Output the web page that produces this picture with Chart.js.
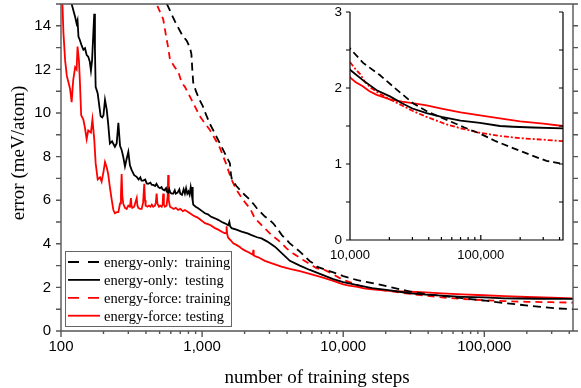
<!DOCTYPE html>
<html>
<head>
<meta charset="utf-8">
<title>error vs training steps</title>
<script src="https://cdn.jsdelivr.net/npm/chart.js@4.4.1/dist/chart.umd.min.js"></script>
<style>
    body { margin: 0; background: #fff; }
    #wrap { position: relative; width: 581px; height: 388px; }
    #main { position: absolute; left: 0; top: 0; }
    #inset { position: absolute; left: 320px; top: 0; }
</style>
</head>
<body>
<div id="wrap">
    <canvas id="main" width="581" height="388"></canvas>
    <canvas id="inset" width="261" height="265"></canvas>
</div>
<script>
        // Series labels and axis titles
        const seriesLabels = ['energy-only:  training', 'energy-only:  testing', 'energy-force: training', 'energy-force: testing'];
        const xTitle = 'number of training steps';
        const yTitle = 'error (meV/atom)';

        // Axis ranges
        const xRange = [100, 425000];
        const yRange = [0, 15];
        const insetXRange = [10000, 425000];
        const insetYRange = [0, 3];

        // energy-only: training (black dashed)
        const eoTrainSteps = [540, 563, 642, 719, 780, 820, 840, 852, 865, 904, 960, 1013, 1070, 1136, 1200, 1267, 1337, 1450, 1530, 1574, 1600, 1626, 1750, 1853, 2000, 2121, 2300, 2443, 2600, 2785, 3000, 3189, 3450, 3675, 3950, 4186, 4600, 4928, 5400, 5801, 6100, 6300, 6500, 7200, 8400, 10000, 12600, 16900, 22000, 30300, 40000, 55000, 75000, 98600, 130000, 176000, 240000, 318000, 425000];
        const eoTrainErr = [15.6, 15.0, 14.2, 13.6, 13.3, 13.0, 12.7, 12.0, 11.4, 11.0, 10.6, 10.3, 9.9, 9.5, 9.2, 8.9, 8.6, 8.15, 7.85, 7.7, 7.2, 6.95, 6.65, 6.47, 6.25, 6.1, 5.85, 5.63, 5.45, 5.25, 5.1, 4.94, 4.65, 4.4, 4.2, 4.02, 3.8, 3.64, 3.4, 3.2, 3.12, 3.05, 2.95, 2.85, 2.7, 2.52, 2.33, 2.17, 2.0, 1.8, 1.68, 1.58, 1.48, 1.4, 1.3, 1.21, 1.12, 1.04, 1.0];

        // energy-only: testing (black solid)
        const eoTestSteps = [110, 119, 126, 129, 131, 133, 136, 140, 144, 148, 152, 156, 160, 163, 166, 169, 172, 174, 176, 182, 187, 191, 196, 200, 205, 211, 216, 222, 230, 241, 248, 255, 262, 269, 276, 284, 292, 300, 308, 317, 330, 344, 355, 365, 372, 383, 395, 405, 415, 430, 440, 451, 465, 475, 490, 503, 515, 525, 540, 555, 561, 575, 585, 595, 610, 624, 640, 650, 670, 690, 700, 720, 740, 755, 770, 785, 800, 815, 830, 843, 850, 858, 865, 900, 938, 1000, 1047, 1100, 1150, 1232, 1300, 1380, 1450, 1530, 1560, 1580, 1618, 1750, 1905, 2100, 2242, 2450, 2638, 2900, 3279, 3700, 4187, 4928, 5801, 7205, 8500, 10000, 12600, 16000, 20200, 25000, 30000, 38500, 50000, 70000, 98600, 140000, 176000, 250000, 425000];
        const eoTestErr = [17.5, 15.0, 14.4, 14.1, 14.25, 13.5, 13.35, 13.1, 12.9, 12.97, 12.66, 12.58, 12.35, 11.95, 12.4, 13.5, 14.55, 12.9, 11.2, 10.9, 10.3, 9.85, 9.8, 9.9, 10.6, 10.14, 9.5, 8.6, 8.7, 8.45, 8.6, 9.55, 8.5, 8.3, 8.0, 7.55, 7.9, 8.22, 7.6, 7.38, 7.15, 7.07, 6.95, 7.05, 6.9, 6.9, 6.95, 6.77, 6.75, 6.8, 6.7, 6.7, 6.65, 6.75, 6.6, 6.55, 6.6, 6.5, 6.45, 6.55, 6.4, 6.35, 6.5, 6.35, 6.3, 6.3, 6.45, 6.3, 6.35, 6.5, 6.3, 6.25, 6.5, 6.3, 6.55, 6.3, 6.4, 6.25, 6.6, 6.3, 6.6, 6.0, 5.8, 5.7, 5.63, 5.5, 5.4, 5.35, 5.25, 5.17, 5.1, 5.0, 4.94, 4.85, 5.0, 4.8, 4.72, 4.65, 4.56, 4.48, 4.4, 4.3, 4.25, 4.1, 3.87, 3.55, 3.22, 3.0, 2.8, 2.56, 2.38, 2.24, 2.1, 1.97, 1.89, 1.8, 1.73, 1.67, 1.62, 1.57, 1.54, 1.5, 1.49, 1.48, 1.47];

        // energy-force: training (red dashed)
        const efTrainSteps = [450, 476, 530, 560, 575, 592, 640, 677, 716, 755, 820, 889, 965, 1000, 1136, 1267, 1337, 1491, 1600, 1755, 1955, 2181, 2366, 2708, 3107, 3556, 3966, 4418, 5200, 6470, 7500, 8481, 10000, 11000, 12000, 13000, 14500, 17000, 20200, 25000, 30000, 38500, 55000, 70000, 98600, 140000, 200000, 300000, 425000];
        const efTrainErr = [16.0, 15.0, 14.3, 13.4, 13.0, 12.45, 12.1, 11.9, 11.4, 11.2, 10.75, 10.3, 9.85, 9.7, 9.22, 8.68, 8.4, 7.61, 7.0, 6.47, 6.0, 5.63, 5.17, 4.78, 4.4, 4.1, 3.79, 3.56, 3.26, 2.88, 2.78, 2.6, 2.34, 2.25, 2.18, 2.08, 2.0, 1.92, 1.85, 1.77, 1.7, 1.62, 1.52, 1.47, 1.41, 1.37, 1.34, 1.32, 1.3];

        // energy-force: testing (red solid)
        const efTestSteps = [100, 104, 107, 110, 116, 119, 122, 126, 129, 131, 134, 136, 139, 144, 148, 152, 156, 163, 167, 172, 176, 182, 189, 194, 200, 205, 211, 216, 222, 229, 235, 241, 248, 255, 262, 266, 269, 272, 276, 284, 292, 300, 308, 313, 316, 320, 330, 344, 348, 353, 363, 373, 382, 389, 394, 398, 410, 420, 430, 440, 450, 463, 470, 476, 482, 495, 505, 517, 525, 530, 536, 545, 560, 570, 575, 580, 592, 610, 630, 650, 677, 700, 730, 755, 800, 865, 930, 1000, 1047, 1100, 1150, 1232, 1300, 1380, 1450, 1480, 1491, 1505, 1530, 1600, 1661, 1750, 1850, 1905, 2000, 2150, 2290, 2305, 2320, 2340, 2500, 2785, 3200, 3650, 4187, 4928, 5801, 7200, 8500, 10000, 11000, 12600, 14000, 16000, 20200, 25000, 30000, 38500, 50000, 70000, 98600, 140000, 200000, 300000, 425000];
        const efTestErr = [17.0, 13.7, 12.4, 11.7, 11.1, 10.5, 11.5, 12.1, 12.0, 13.05, 12.4, 11.5, 9.9, 9.7, 9.3, 8.8, 9.2, 9.1, 9.7, 8.8, 7.7, 6.95, 7.05, 6.85, 7.3, 7.75, 7.5, 7.2, 6.6, 6.0, 5.55, 5.4, 5.45, 5.45, 5.85, 6.3, 7.2, 6.2, 5.85, 5.65, 5.6, 5.75, 5.7, 6.1, 5.75, 5.65, 5.7, 6.1, 5.75, 5.65, 5.6, 5.6, 5.9, 6.75, 6.0, 5.75, 5.7, 5.75, 5.7, 5.8, 5.7, 5.75, 5.9, 6.3, 5.85, 5.7, 5.75, 5.7, 5.8, 6.3, 5.8, 5.7, 5.75, 6.2, 7.15, 6.0, 5.7, 5.65, 5.6, 5.65, 5.55, 5.6, 5.5, 5.55, 5.45, 5.3, 5.2, 5.05, 4.95, 4.9, 4.85, 4.72, 4.65, 4.55, 4.48, 4.5, 4.8, 4.45, 4.28, 4.15, 4.02, 3.95, 3.85, 3.78, 3.7, 3.6, 3.5, 3.72, 3.5, 3.45, 3.38, 3.22, 3.08, 2.95, 2.85, 2.75, 2.62, 2.45, 2.3, 2.14, 2.08, 2.02, 1.96, 1.91, 1.85, 1.82, 1.8, 1.77, 1.73, 1.68, 1.64, 1.6, 1.56, 1.53, 1.5];

        const sansFamily = '"Liberation Sans", Arial, sans-serif';
        const serifFamily = '"Liberation Serif", "Times New Roman", serif';

        // Build {x, y} points
        function toPoints(steps, err) {
            return steps.map((s, i) => ({ x: s, y: err[i] }));
        }

        // Log axis tick positions (1..9 x 10^n)
        function logTicks(min, max) {
            const out = [];
            for (let p = Math.floor(Math.log10(min)); Math.pow(10, p) <= max; p++) {
                for (let m = 1; m <= 9; m++) {
                    const v = m * Math.pow(10, p);
                    if (v >= min && v <= max) out.push({ v: v, major: m === 1 });
                }
            }
            return out;
        }

        function isPow10(v) {
            const p = Math.round(Math.log10(v));
            return Math.abs(v - Math.pow(10, p)) < 1e-6;
        }

        function makeDatasets(dashes, width) {
            const colors = ['#000', '#000', '#f00', '#f00'];
            const data = [
                toPoints(eoTrainSteps, eoTrainErr),
                toPoints(eoTestSteps, eoTestErr),
                toPoints(efTrainSteps, efTrainErr),
                toPoints(efTestSteps, efTestErr)
            ];
            return data.map((d, i) => ({
                label: seriesLabels[i],
                data: d,
                borderColor: colors[i],
                borderDash: dashes[i],
                borderWidth: width,
                pointRadius: 0,
                tension: 0,
                fill: false
            }));
        }

        // no extra label padding around the plot area
        function noPadX(s, h) {
            s.height = h;
            s.paddingLeft = 0;
            s.paddingRight = 0;
        }
        function noPadY(s, w) {
            s.width = w;
            s.paddingTop = 0;
            s.paddingBottom = 0;
        }

        // Frame, ticks, titles and legend of the main plot
        const mainFrame = {
            id: 'mainFrame',
            afterDatasetsDraw(chart) {
                const ctx = chart.ctx;
                const a = chart.chartArea;
                const xs = chart.scales.x;
                const ys = chart.scales.y;
                ctx.save();
                ctx.strokeStyle = '#555';
                ctx.lineWidth = 1.4;
                ctx.beginPath();
                ctx.rect(a.left, a.top, a.right - a.left, a.bottom - a.top);
                for (let v = yRange[0]; v <= yRange[1]; v++) {
                    const py = ys.getPixelForValue(v);
                    ctx.moveTo(a.left - 5, py); ctx.lineTo(a.left, py);
                    ctx.moveTo(a.right, py); ctx.lineTo(a.right + 5, py);
                }
                logTicks(xRange[0], xRange[1]).forEach(t => {
                    const px = xs.getPixelForValue(t.v);
                    ctx.moveTo(px, a.bottom); ctx.lineTo(px, a.bottom + (t.major ? 6 : 3));
                });
                ctx.stroke();

                // axis titles
                ctx.fillStyle = '#000';
                ctx.font = '19px ' + serifFamily;
                ctx.textAlign = 'center';
                ctx.textBaseline = 'alphabetic';
                ctx.fillText(xTitle, (a.left + a.right) / 2, 383);
                ctx.save();
                ctx.translate(24, 153);
                ctx.rotate(-Math.PI / 2);
                ctx.fillText(yTitle, 0, 0);
                ctx.restore();

                // legend box
                ctx.fillStyle = '#fff';
                ctx.fillRect(65.5, 251.5, 166, 75);
                ctx.strokeStyle = '#666';
                ctx.lineWidth = 1;
                ctx.strokeRect(65.5, 251.5, 166, 75);
                ctx.font = '14.5px ' + serifFamily;
                ctx.textAlign = 'left';
                ctx.textBaseline = 'middle';
                chart.data.datasets.forEach((ds, i) => {
                    const y = 262 + i * 17.9;
                    ctx.strokeStyle = ds.borderColor;
                    ctx.lineWidth = 1.8;
                    ctx.setLineDash(ds.borderDash.length ? [11, 9] : []);
                    ctx.beginPath();
                    ctx.moveTo(68, y); ctx.lineTo(100, y);
                    ctx.stroke();
                    ctx.setLineDash([]);
                    ctx.fillStyle = '#000';
                    ctx.fillText(ds.label, 104, y + 1);
                });
                ctx.restore();
            }
        };

        // Frame and ticks of the inset
        const insetFrame = {
            id: 'insetFrame',
            afterDatasetsDraw(chart) {
                const ctx = chart.ctx;
                const a = chart.chartArea;
                const xs = chart.scales.x;
                const ys = chart.scales.y;
                ctx.save();
                ctx.strokeStyle = '#000';
                ctx.lineWidth = 1.2;
                ctx.beginPath();
                ctx.moveTo(a.left, a.top); ctx.lineTo(a.left, a.bottom); ctx.lineTo(a.right, a.bottom); ctx.lineTo(a.right, a.top);
                for (let v = insetYRange[0]; v <= insetYRange[1]; v += 0.5) {
                    const py = ys.getPixelForValue(v);
                    ctx.moveTo(a.left - 4, py); ctx.lineTo(a.left, py);
                    ctx.moveTo(a.right - 4, py); ctx.lineTo(a.right, py);
                }
                logTicks(insetXRange[0], insetXRange[1]).forEach(t => {
                    const px = xs.getPixelForValue(t.v);
                    ctx.moveTo(px, a.bottom); ctx.lineTo(px, a.bottom - (t.major ? 5 : 3));
                });
                ctx.stroke();
                ctx.restore();
            }
        };

        const mainChart = new Chart(document.getElementById('main').getContext('2d'), {
            type: 'line',
            data: { datasets: makeDatasets([[8, 5], [], [7, 5], []], 1.8) },
            options: {
                responsive: false,
                animation: false,
                layout: { padding: { top: 4, right: 8, left: 0, bottom: 0 } },
                plugins: { legend: { display: false }, tooltip: { enabled: false } },
                scales: {
                    x: {
                        type: 'logarithmic',
                        min: xRange[0],
                        max: xRange[1],
                        grid: { display: false, drawTicks: false },
                        border: { display: false },
                        ticks: {
                            autoSkip: false,
                            maxRotation: 0,
                            padding: 7,
                            color: '#000',
                            font: { family: sansFamily, size: 15 },
                            callback: v => isPow10(v) ? Number(v).toLocaleString('en-US') : ''
                        },
                        afterFit(s) { noPadX(s, 57); }
                    },
                    y: {
                        min: yRange[0],
                        max: yRange[1],
                        grid: { display: false, drawTicks: false },
                        border: { display: false },
                        ticks: {
                            stepSize: 2,
                            padding: 10,
                            color: '#000',
                            font: { family: sansFamily, size: 15 },
                            callback: v => v % 2 === 0 ? v : ''
                        },
                        afterFit(s) { noPadY(s, 61); }
                    }
                }
            },
            plugins: [mainFrame]
        });

        const insetChart = new Chart(document.getElementById('inset').getContext('2d'), {
            type: 'line',
            data: { datasets: makeDatasets([[7, 4], [], [5, 2, 2, 2], []], 1.8) },
            options: {
                responsive: false,
                animation: false,
                layout: { padding: { top: 12, right: 18, left: 0, bottom: 0 } },
                plugins: { legend: { display: false }, tooltip: { enabled: false } },
                scales: {
                    x: {
                        type: 'logarithmic',
                        min: insetXRange[0],
                        max: insetXRange[1],
                        grid: { display: false, drawTicks: false },
                        border: { display: false },
                        ticks: {
                            autoSkip: false,
                            maxRotation: 0,
                            padding: 8,
                            color: '#000',
                            font: { family: sansFamily, size: 13 },
                            callback: v => isPow10(v) ? Number(v).toLocaleString('en-US') : ''
                        },
                        afterFit(s) { noPadX(s, 25); }
                    },
                    y: {
                        min: insetYRange[0],
                        max: insetYRange[1],
                        grid: { display: false, drawTicks: false },
                        border: { display: false },
                        ticks: {
                            stepSize: 1,
                            padding: 8,
                            color: '#000',
                            font: { family: sansFamily, size: 13.5 }
                        },
                        afterFit(s) { noPadY(s, 30); }
                    }
                }
            },
            plugins: [insetFrame]
        });
</script>
</body>
</html>
